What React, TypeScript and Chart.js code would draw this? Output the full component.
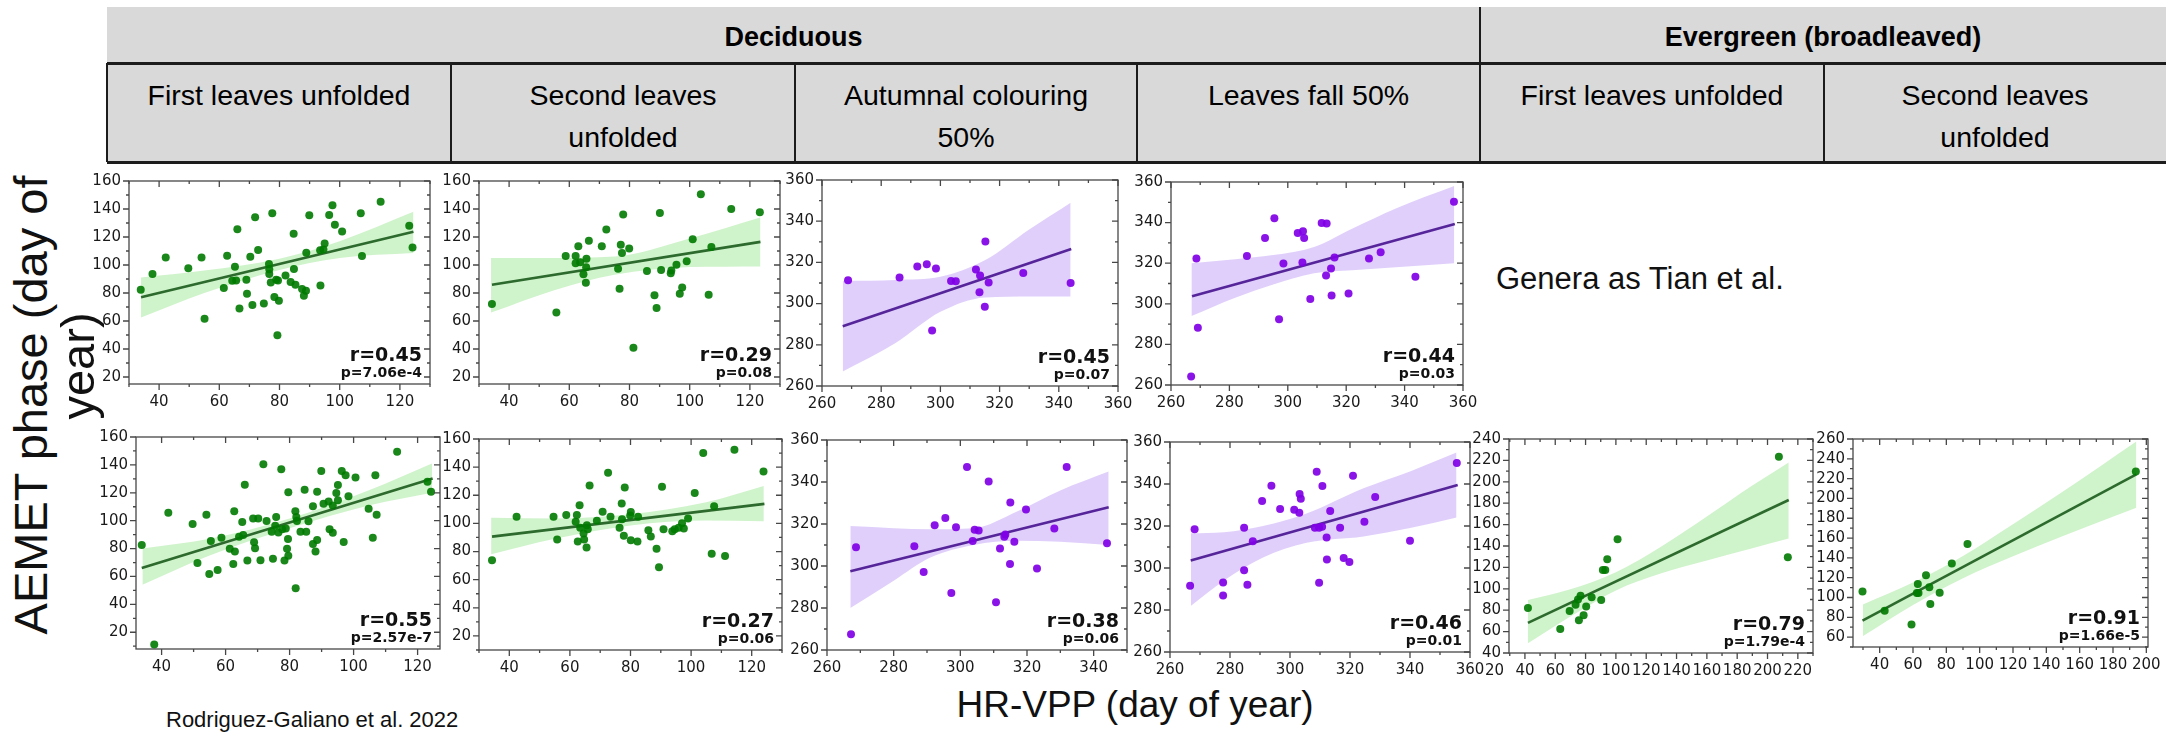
import React, { useEffect, useRef } from "react";
import { Chart, registerables } from "chart.js";
Chart.register(...registerables);

// ---------- tick labels ----------
const greenXTicks = [40, 60, 80, 100, 120];
const greenYTicks = [20, 40, 60, 80, 100, 120, 140, 160];
const purpleXTicks = [260, 280, 300, 320, 340, 360];
const purpleXTicksShort = [260, 280, 300, 320, 340];
const purpleYTicks = [260, 280, 300, 320, 340, 360];
const ever1XTicks = [20, 40, 60, 80, 100, 120, 140, 160, 180, 200, 220];
const ever1YTicks = [40, 60, 80, 100, 120, 140, 160, 180, 200, 220, 240];
const ever2XTicks = [40, 60, 80, 100, 120, 140, 160, 180, 200];
const ever2YTicks = [60, 80, 100, 120, 140, 160, 180, 200, 220, 240, 260];

// ---------- header texts ----------
const groupHeaders = ["Deciduous", "Evergreen (broadleaved)"];
const phaseHeaders = [
  "First leaves unfolded",
  "Second leaves\nunfolded",
  "Autumnal colouring\n50%",
  "Leaves fall 50%",
  "First leaves unfolded",
  "Second leaves\nunfolded",
];

// ---------- row 1, panel 1 (deciduous, first leaves) ----------
const r1p1X = [33.9,37.8,42.2,49.7,54.1,55.1,61.5,62.6,65.2,64.3,65.6,66.0,66.7,69.0,69.2,70.3,71.0,71.9,72.9,74.8,76.5,76.6,76.6,77.1,77.6,78.3,78.9,79.5,79.8,79.3,82.0,83.7,84.7,84.8,85.3,87.5,88.1,88.8,88.9,89.9,93.6,93.5,94.6,95.0,96.5,97.6,98.4,100.8,107.0,107.4,113.6,123.1,124.2];
const r1p1Y = [82.4,93.6,105.4,97.6,105.4,61.6,83.5,106.6,98.8,88.7,88.9,125.6,68.9,89.4,79.5,105.9,71.5,134.1,110.8,72.5,100.7,96.9,93.6,87.5,136.9,77.2,89.4,88.9,74.4,49.9,92.5,87.8,122.4,97.2,85.9,82.8,78.1,81.6,108.7,135.5,85.4,110.6,111.1,115.3,135.8,142.6,128.7,124.0,136.9,106.4,145.2,128.0,112.5];
const r1p1LineX = [34, 124.5];
const r1p1LineY = [77, 123.8];
const r1p1BandX = [34, 55, 80, 100, 124.5];
const r1p1BandLo = [62.5, 80, 96.5, 105, 108.5];
const r1p1BandHi = [91, 96, 104.5, 117, 138];
const r1p1Stats = ["r=0.45", "p=7.06e-4"];

// ---------- row 1, panel 2 ----------
const r1p2X = [34.3,55.7,58.8,62.1,62.1,63.0,63.6,64.7,65.6,65.7,65.5,66.5,70.8,72.3,76.2,76.7,77.1,77.5,77.9,79.9,81.3,85.8,88.3,89.0,90.1,90.5,93.7,93.9,95.6,96.7,97.5,99.0,101.0,103.7,106.3,107.2,113.8,123.3];
const r1p2Y = [72.2,66.1,106.4,106.4,101.2,113.4,101.9,93.4,98.4,104.5,87.3,117.4,113.4,125.4,97.4,83.1,114.4,108.5,136.0,111.8,40.9,95.8,78.4,69.2,137.2,96.5,94.1,96.0,100.2,79.5,84.0,102.6,118.4,150.6,78.8,112.9,140.0,137.6];
const r1p2LineX = [34.3, 123.5];
const r1p2LineY = [85.9, 116.5];
const r1p2BandX = [34, 55, 75, 100, 123.5];
const r1p2BandLo = [66, 82, 93, 98.5, 99];
const r1p2BandHi = [105, 105, 106, 119, 134];
const r1p2Stats = ["r=0.29", "p=0.08"];

// ---------- row 1, panel 3 ----------
const r1p3X = [268.8,286.2,292.2,295.4,298.5,297.2,303.6,305.2,312.0,313.4,313.2,315.2,315.0,316.3,328.0,344.0];
const r1p3Y = [311.3,312.7,318.0,319.1,317.0,286.9,311.0,310.8,316.5,313.7,305.5,330.1,298.5,310.3,314.9,310.0];
const r1p3LineX = [267, 344.2];
const r1p3LineY = [289, 326.5];
const r1p3BandX = [267, 285, 300, 315, 330, 344];
const r1p3BandLo = [267, 281, 296, 303, 303.5, 303.5];
const r1p3BandHi = [311, 311.5, 313, 321, 336, 349];
const r1p3Stats = ["r=0.45", "p=0.07"];

// ---------- row 1, panel 4 ----------
const r1p4X = [266.9,268.7,269.2,286.0,292.2,295.4,297.0,298.5,303.4,305.2,305.6,305.0,307.7,311.6,313.3,313.1,314.8,315.0,316.0,320.8,327.8,331.8,343.7,356.9];
const r1p4Y = [264.2,322.3,288.2,323.6,332.4,342.2,292.4,319.9,334.9,335.8,332.4,320.4,302.4,339.8,339.6,313.9,317.4,304.1,322.8,305.1,322.3,325.4,313.3,350.3];
const r1p4LineX = [267.2, 357.2];
const r1p4LineY = [303.7, 339.3];
const r1p4BandX = [267, 282, 295, 309, 322, 337, 357];
const r1p4BandLo = [294, 303, 309.5, 315, 316.5, 318, 320];
const r1p4BandHi = [320, 322, 324, 328, 337, 347, 358];
const r1p4Stats = ["r=0.44", "p=0.03"];

// ---------- row 2, panel 1 ----------
const r2p1X = [33.8,37.7,42.1,49.7,54.0,51.2,54.9,55.4,57.5,58.7,61.3,62.7,62.9,62.4,64.2,65.2,65.5,66.0,66.8,68.9,68.6,69.2,70.2,70.9,71.8,72.8,74.8,75.5,75.8,74.4,76.5,77.4,77.7,78.8,78.4,79.2,79.5,79.6,79.6,81.8,82.1,81.9,82.3,83.4,84.7,85.2,85.9,87.3,87.3,88.1,88.6,88.6,89.9,90.6,92.2,92.5,93.5,93.5,94.6,95.1,95.1,96.3,97.5,96.9,98.4,100.6,104.7,106.0,106.8,107.2,113.6,123.1,124.2];
const r2p1Y = [82.6,11.3,105.7,97.7,104.3,69.6,61.8,85.4,64.6,87.8,79.8,106.7,77.9,68.9,88.5,99.1,89.7,125.8,71.5,84.5,101.5,80.3,101.5,71.7,140.4,99.8,72.7,96.3,102.7,92.0,91.5,136.9,93.9,94.4,71.5,79.8,86.8,120.3,74.8,106.7,102.7,51.6,99.8,92.0,122.2,92.0,99.6,110.4,83.3,77.9,120.8,86.1,135.7,112.1,113.7,93.9,91.3,110.9,119.9,125.5,114.6,135.7,132.6,84.7,117.5,131.0,108.5,87.8,132.6,104.3,149.4,127.9,120.8];
const r2p1LineX = [33.8, 124.7];
const r2p1LineY = [66, 130.3];
const r2p1BandX = [34, 55, 80, 105, 124.5];
const r2p1BandLo = [54, 75, 94.5, 111, 120];
const r2p1BandHi = [80, 87, 101.5, 122, 141];
const r2p1Stats = ["r=0.55", "p=2.57e-7"];

// ---------- row 2, panel 2 ----------
const r2p2X = [34.3,42.4,54.6,55.8,58.8,62.3,61.9,63.2,62.6,63.4,64.5,64.7,65.6,65.9,65.5,66.5,68.9,70.8,72.6,73.4,76.4,77.1,77.8,78.1,77.2,80.1,79.9,80.1,82.3,82.5,85.9,86.7,88.6,89.4,90.4,90.9,93.8,94.6,95.9,97.0,97.6,99.0,101.2,104.0,106.8,107.6,111.2,114.3,123.9];
const r2p2Y = [73.8,104.8,104.8,88.5,106.0,106.0,101.1,112.9,87.1,96.9,92.9,88.5,98.7,95.9,82.9,126.9,101.8,108.3,136.0,104.8,96.9,114.1,91.3,125.5,102.9,108.1,105.7,88.0,87.1,104.8,95.2,90.6,82.0,68.9,126.0,95.9,94.5,95.9,96.9,100.1,96.4,103.4,121.6,150.0,78.5,112.2,76.8,152.3,136.9];
const r2p2LineX = [34.3, 124.2];
const r2p2LineY = [90.6, 113.9];
const r2p2BandX = [34, 55, 80, 105, 124];
const r2p2BandLo = [78, 89, 98.5, 102, 101.5];
const r2p2BandHi = [104, 103.5, 106.5, 115, 126.5];
const r2p2Stats = ["r=0.27", "p=0.06"];

// ---------- row 2, panel 3 ----------
const r2p3X = [267.2,268.7,286.2,289.0,292.3,295.5,298.7,297.3,302.0,303.7,304.3,305.5,308.5,310.7,311.9,313.2,313.5,315.0,314.9,316.2,319.7,323.0,328.2,331.9,344.0];
const r2p3Y = [267.5,308.9,309.4,297.2,319.4,322.8,318.4,287.2,347.2,311.9,317.3,316.9,340.2,282.7,308.3,313.9,315.0,330.2,300.9,311.6,326.9,298.8,317.9,347.2,310.8];
const r2p3LineX = [267, 344.5];
const r2p3LineY = [297.5, 328];
const r2p3BandX = [267, 280, 291, 304, 317, 330, 344.5];
const r2p3BandLo = [280, 293, 304, 310, 312, 311.5, 310];
const r2p3BandHi = [319, 318, 317.5, 318, 326, 336, 345];
const r2p3Stats = ["r=0.38", "p=0.06"];

// ---------- row 2, panel 4 ----------
const r2p4X = [266.7,268.2,277.7,277.7,284.7,284.7,285.8,287.6,290.7,293.8,296.7,301.4,303.1,303.2,303.6,308.9,308.3,309.7,310.8,310.7,309.7,312.2,312.3,313.4,316.7,317.9,319.8,321.0,324.8,328.4,340.0,355.6];
const r2p4Y = [291.6,318.4,293.1,286.9,319.2,298.9,292.0,312.7,331.9,339.2,328.1,327.7,326.3,335.2,333.0,345.8,319.2,319.2,339.1,319.7,293.0,314.5,304.1,327.2,319.2,304.8,302.8,343.9,322.0,333.8,313.0,350.0];
const r2p4LineX = [266.9, 355.9];
const r2p4LineY = [303.6, 339.5];
const r2p4BandX = [267, 278, 291, 305.5, 324.5, 340, 355.5];
const r2p4BandLo = [282, 294, 305, 312, 315, 319, 324];
const r2p4BandHi = [316.5, 317, 320, 326, 338, 346, 355];
const r2p4Stats = ["r=0.46", "p=0.01"];

// ---------- row 2, panel 5 (evergreen, first leaves) ----------
const r2p5X = [42.0,63.3,69.5,73.4,75.6,75.0,76.7,78.7,80.4,84.0,90.3,91.4,93.0,94.3,101.1,207.5,213.4];
const r2p5Y = [82.0,62.4,79.2,85.0,70.6,89.9,93.6,75.2,83.5,92.1,89.6,117.5,117.5,127.6,146.3,223.5,129.4];
const r2p5LineX = [42, 214];
const r2p5LineY = [68.2, 183];
const r2p5BandX = [42, 70, 100, 130, 160, 190, 214];
const r2p5BandLo = [49, 74, 98.5, 114.5, 126.5, 138, 147];
const r2p5BandHi = [89.5, 99.5, 115.5, 139.5, 167.5, 196.5, 218];
const r2p5Stats = ["r=0.79", "p=1.79e-4"];

// ---------- row 2, panel 6 (evergreen, second leaves) ----------
const r2p6X = [29.7,43.0,59.1,62.9,62.3,63.3,67.8,69.8,70.4,76.0,83.3,92.7,193.7];
const r2p6Y = [106.1,86.5,72.6,113.7,104.4,104.4,122.4,110.4,93.5,104.8,134.3,153.9,227.2];
const r2p6LineX = [29.7, 194];
const r2p6LineY = [76.6, 224.2];
const r2p6BandX = [30, 60, 90, 120, 150, 194];
const r2p6BandLo = [61, 92.5, 119.5, 141.5, 162, 190.5];
const r2p6BandHi = [93, 115, 142, 174, 207, 257.5];
const r2p6Stats = ["r=0.91", "p=1.66e-5"];

// ---------- styling / layout ----------
const THEMES: Record<string, { point: string; line: string; band: string }> = {
  green: { point: "rgba(0,122,0,0.9)", line: "#2d6a2d", band: "rgba(160,232,150,0.5)" },
  purple: { point: "rgba(128,0,230,0.92)", line: "#56259a", band: "rgba(196,168,245,0.55)" },
};

const Y_W = 52;
const PAD_T = 14;
const PAD_R = 26;
const X_H = 32;

type PanelDef = {
  x: number[]; y: number[];
  lineX: number[]; lineY: number[];
  bandX: number[]; bandLo: number[]; bandHi: number[];
  xTicks: number[]; yTicks: number[];
  xRange: number[]; yRange: number[];
  stats: string[]; theme: string;
  frame: { l: number; t: number; r: number; b: number };
};

const PANELS: PanelDef[] = [
  { x: r1p1X, y: r1p1Y, lineX: r1p1LineX, lineY: r1p1LineY, bandX: r1p1BandX, bandLo: r1p1BandLo, bandHi: r1p1BandHi, xTicks: greenXTicks, yTicks: greenYTicks, xRange: [30, 130], yRange: [15, 160], stats: r1p1Stats, theme: "green", frame: { l: 129, t: 178, r: 430, b: 384 } },
  { x: r1p2X, y: r1p2Y, lineX: r1p2LineX, lineY: r1p2LineY, bandX: r1p2BandX, bandLo: r1p2BandLo, bandHi: r1p2BandHi, xTicks: greenXTicks, yTicks: greenYTicks, xRange: [30, 130], yRange: [15, 160], stats: r1p2Stats, theme: "green", frame: { l: 479, t: 178, r: 780, b: 384 } },
  { x: r1p3X, y: r1p3Y, lineX: r1p3LineX, lineY: r1p3LineY, bandX: r1p3BandX, bandLo: r1p3BandLo, bandHi: r1p3BandHi, xTicks: purpleXTicks, yTicks: purpleYTicks, xRange: [260, 360], yRange: [260, 360], stats: r1p3Stats, theme: "purple", frame: { l: 822, t: 177, r: 1118, b: 386 } },
  { x: r1p4X, y: r1p4Y, lineX: r1p4LineX, lineY: r1p4LineY, bandX: r1p4BandX, bandLo: r1p4BandLo, bandHi: r1p4BandHi, xTicks: purpleXTicks, yTicks: purpleYTicks, xRange: [260, 360], yRange: [260, 360], stats: r1p4Stats, theme: "purple", frame: { l: 1171, t: 179, r: 1463, b: 385 } },
  { x: r2p1X, y: r2p1Y, lineX: r2p1LineX, lineY: r2p1LineY, bandX: r2p1BandX, bandLo: r2p1BandLo, bandHi: r2p1BandHi, xTicks: greenXTicks, yTicks: greenYTicks, xRange: [32, 127], yRange: [8, 160], stats: r2p1Stats, theme: "green", frame: { l: 136, t: 434, r: 440, b: 649 } },
  { x: r2p2X, y: r2p2Y, lineX: r2p2LineX, lineY: r2p2LineY, bandX: r2p2BandX, bandLo: r2p2BandLo, bandHi: r2p2BandHi, xTicks: greenXTicks, yTicks: greenYTicks, xRange: [30, 130], yRange: [10, 160], stats: r2p2Stats, theme: "green", frame: { l: 479, t: 436, r: 782, b: 650 } },
  { x: r2p3X, y: r2p3Y, lineX: r2p3LineX, lineY: r2p3LineY, bandX: r2p3BandX, bandLo: r2p3BandLo, bandHi: r2p3BandHi, xTicks: purpleXTicksShort, yTicks: purpleYTicks, xRange: [260, 350], yRange: [260, 360], stats: r2p3Stats, theme: "purple", frame: { l: 827, t: 437, r: 1127, b: 650 } },
  { x: r2p4X, y: r2p4Y, lineX: r2p4LineX, lineY: r2p4LineY, bandX: r2p4BandX, bandLo: r2p4BandLo, bandHi: r2p4BandHi, xTicks: purpleXTicks, yTicks: purpleYTicks, xRange: [260, 360], yRange: [260, 360], stats: r2p4Stats, theme: "purple", frame: { l: 1170, t: 439, r: 1470, b: 652 } },
  { x: r2p5X, y: r2p5Y, lineX: r2p5LineX, lineY: r2p5LineY, bandX: r2p5BandX, bandLo: r2p5BandLo, bandHi: r2p5BandHi, xTicks: ever1XTicks, yTicks: ever1YTicks, xRange: [29.5, 230], yRange: [40, 240], stats: r2p5Stats, theme: "green", frame: { l: 1509, t: 436, r: 1813, b: 653 } },
  { x: r2p6X, y: r2p6Y, lineX: r2p6LineX, lineY: r2p6LineY, bandX: r2p6BandX, bandLo: r2p6BandLo, bandHi: r2p6BandHi, xTicks: ever2XTicks, yTicks: ever2YTicks, xRange: [24, 201], yRange: [50, 260], stats: r2p6Stats, theme: "green", frame: { l: 1853, t: 436, r: 2148, b: 647 } },
];

const TICK_FONT = { family: "'DejaVu Sans', sans-serif", size: 15 };

const frameTicksPlugin = {
  id: "frameTicks",
  afterDatasetsDraw(chart: any, _args: any, opts: any) {
    const { ctx, chartArea: a } = chart;
    const xs = chart.scales.x;
    const ys = chart.scales.y;
    ctx.save();
    ctx.strokeStyle = "#474747";
    ctx.lineWidth = 1.3;
    ctx.strokeRect(a.left, a.top, a.right - a.left, a.bottom - a.top);
    ctx.beginPath();
    const step = 10;
    for (let v = Math.ceil(xs.min / step) * step; v <= xs.max + 1e-6; v += step) {
      const px = xs.getPixelForValue(v);
      const len = v % 20 === 0 ? 6 : 3;
      ctx.moveTo(px, a.bottom);
      ctx.lineTo(px, a.bottom + len);
      ctx.moveTo(px, a.top);
      ctx.lineTo(px, a.top + len);
    }
    for (let v = Math.ceil(ys.min / step) * step; v <= ys.max + 1e-6; v += step) {
      const py = ys.getPixelForValue(v);
      const len = v % 20 === 0 ? 6 : 3;
      ctx.moveTo(a.left, py);
      ctx.lineTo(a.left - len, py);
      ctx.moveTo(a.right, py);
      ctx.lineTo(a.right - len, py);
    }
    ctx.stroke();
    ctx.fillStyle = "#111";
    ctx.textAlign = "right";
    ctx.textBaseline = "alphabetic";
    ctx.font = "bold 19px 'DejaVu Sans', sans-serif";
    ctx.fillText(opts.r, a.right - 8, a.bottom - 23);
    ctx.font = "bold 14px 'DejaVu Sans', sans-serif";
    ctx.fillText(opts.p, a.right - 8, a.bottom - 7);
    ctx.restore();
  },
};

function Panel({ def }: { def: PanelDef }) {
  const ref = useRef<HTMLCanvasElement>(null);
  const f = def.frame;
  const w = f.r - f.l + Y_W + PAD_R;
  const h = f.b - f.t + PAD_T + X_H;
  useEffect(() => {
    const th = THEMES[def.theme];
    const pts = def.x.map((v, i) => ({ x: v, y: def.y[i] }));
    const line = def.lineX.map((v, i) => ({ x: v, y: def.lineY[i] }));
    const hi = def.bandX.map((v, i) => ({ x: v, y: def.bandHi[i] }));
    const lo = def.bandX.map((v, i) => ({ x: v, y: def.bandLo[i] }));
    const chart = new Chart(ref.current as HTMLCanvasElement, {
      type: "scatter",
      data: {
        datasets: [
          { type: "scatter", data: pts, pointRadius: 4, pointHoverRadius: 4, pointBackgroundColor: th.point, pointBorderWidth: 0, borderWidth: 0 } as any,
          { type: "line", data: line, borderColor: th.line, borderWidth: 2.6, pointRadius: 0, fill: false } as any,
          { type: "line", data: hi, borderWidth: 0, borderColor: "rgba(0,0,0,0)", pointRadius: 0, fill: "+1", backgroundColor: th.band, cubicInterpolationMode: "monotone" } as any,
          { type: "line", data: lo, borderWidth: 0, borderColor: "rgba(0,0,0,0)", pointRadius: 0, fill: false, cubicInterpolationMode: "monotone" } as any,
        ],
      },
      options: {
        animation: false,
        responsive: false,
        maintainAspectRatio: false,
        events: [],
        layout: { padding: { top: PAD_T, right: PAD_R, left: 0, bottom: 0 } },
        plugins: {
          legend: { display: false },
          tooltip: { enabled: false },
          frameTicks: { r: def.stats[0], p: def.stats[1] },
        } as any,
        scales: {
          x: {
            type: "linear",
            min: def.xRange[0],
            max: def.xRange[1],
            grid: { display: false, drawTicks: false },
            border: { display: false },
            afterFit: (s: any) => { s.height = X_H; },
            afterBuildTicks: (s: any) => { s.ticks = def.xTicks.map((v) => ({ value: v })); },
            ticks: { font: TICK_FONT, color: "#1a1a1a", padding: 9, autoSkip: false, maxRotation: 0, minRotation: 0, callback: (v: any) => String(v) },
          },
          y: {
            type: "linear",
            min: def.yRange[0],
            max: def.yRange[1],
            grid: { display: false, drawTicks: false },
            border: { display: false },
            afterFit: (s: any) => { s.width = Y_W; },
            afterBuildTicks: (s: any) => { s.ticks = def.yTicks.map((v) => ({ value: v })); },
            ticks: { font: TICK_FONT, color: "#1a1a1a", padding: 8, autoSkip: false, callback: (v: any) => String(v) },
          },
        } as any,
      },
      plugins: [frameTicksPlugin as any],
    });
    return () => chart.destroy();
  }, []);
  return (
    <div style={{ position: "absolute", left: f.l - Y_W, top: f.t - PAD_T, width: w, height: h }}>
      <canvas ref={ref} width={w} height={h} style={{ width: w, height: h, display: "block" }} />
    </div>
  );
}

// header geometry
const TABLE_LEFT = 107;
const TABLE_RIGHT = 2166;
const ROW1_TOP = 7;
const ROW_SPLIT = 63;
const ROW2_BOTTOM = 162;
const COL_EDGES = [107, 451, 795, 1137, 1480, 1824, 2166];
const GROUP_EDGES = [107, 1480, 2166];

const HEAD_FONT = "'Liberation Sans', Arial, sans-serif";
const LABEL_FONT = "'Liberation Sans', Arial, sans-serif";

function Header() {
  const cells: any[] = [];
  cells.push(
    <div key="bg" style={{ position: "absolute", left: TABLE_LEFT, top: ROW1_TOP, width: TABLE_RIGHT - TABLE_LEFT, height: ROW2_BOTTOM - ROW1_TOP, background: "#d9d9d9" }} />
  );
  groupHeaders.forEach((g, i) => {
    const l = GROUP_EDGES[i], r = GROUP_EDGES[i + 1];
    cells.push(
      <div key={"g" + i} style={{ position: "absolute", left: l, top: ROW1_TOP + 5, width: r - l, height: ROW_SPLIT - ROW1_TOP - 5, display: "flex", alignItems: "center", justifyContent: "center", fontFamily: HEAD_FONT, fontWeight: "bold", fontSize: 27, color: "#000" }}>{g}</div>
    );
  });
  phaseHeaders.forEach((p, i) => {
    const l = COL_EDGES[i], r = COL_EDGES[i + 1];
    cells.push(
      <div key={"p" + i} style={{ position: "absolute", left: l, top: ROW_SPLIT, width: r - l, height: ROW2_BOTTOM - ROW_SPLIT, paddingTop: 11, boxSizing: "border-box", textAlign: "center", whiteSpace: "pre-line", fontFamily: HEAD_FONT, fontSize: 28.5, lineHeight: "42px", color: "#000" }}>{p}</div>
    );
  });
  cells.push(<div key="hl1" style={{ position: "absolute", left: TABLE_LEFT, top: ROW_SPLIT - 1, width: TABLE_RIGHT - TABLE_LEFT, height: 3, background: "#1c1c1c" }} />);
  cells.push(<div key="hl2" style={{ position: "absolute", left: TABLE_LEFT, top: ROW2_BOTTOM - 1, width: TABLE_RIGHT - TABLE_LEFT, height: 3, background: "#1c1c1c" }} />);
  COL_EDGES.slice(0, 6).forEach((x, i) => {
    cells.push(<div key={"vl" + i} style={{ position: "absolute", left: x - 1, top: ROW_SPLIT, width: 2, height: ROW2_BOTTOM - ROW_SPLIT, background: "#1c1c1c" }} />);
  });
  cells.push(<div key="vg" style={{ position: "absolute", left: GROUP_EDGES[1] - 1, top: ROW1_TOP, width: 2, height: ROW_SPLIT - ROW1_TOP, background: "#1c1c1c" }} />);
  return <>{cells}</>;
}

function RotatedLine({ text, cx, cy }: { text: string; cx: number; cy: number }) {
  return (
    <div style={{ position: "absolute", left: cx, top: cy, width: 600, height: 50, marginLeft: -300, marginTop: -25, transform: "rotate(-90deg)", textAlign: "center", fontFamily: LABEL_FONT, fontSize: 47, lineHeight: "50px", color: "#111", whiteSpace: "nowrap" }}>
      {text}
    </div>
  );
}

export default function App() {
  return (
    <div style={{ position: "absolute", left: 0, top: 0, width: 2166, height: 736, overflow: "hidden", background: "#fff" }}>
      <Header />
      {PANELS.map((d, i) => (
        <Panel key={i} def={d} />
      ))}
      <RotatedLine text="AEMET phase (day of" cx={31} cy={405} />
      <RotatedLine text="year)" cx={78} cy={366} />
      <div style={{ position: "absolute", left: 1496, top: 279, transform: "translateY(-50%)", fontFamily: LABEL_FONT, fontSize: 31, color: "#111", whiteSpace: "nowrap" }}>
        Genera as Tian et al.
      </div>
      <div style={{ position: "absolute", left: 1135, top: 705, transform: "translate(-50%, -50%)", fontFamily: LABEL_FONT, fontSize: 37, color: "#111", whiteSpace: "nowrap" }}>
        HR-VPP (day of year)
      </div>
      <div style={{ position: "absolute", left: 166, top: 720, transform: "translateY(-50%)", fontFamily: LABEL_FONT, fontSize: 22, color: "#111", whiteSpace: "nowrap" }}>
        Rodriguez-Galiano et al. 2022
      </div>
    </div>
  );
}
